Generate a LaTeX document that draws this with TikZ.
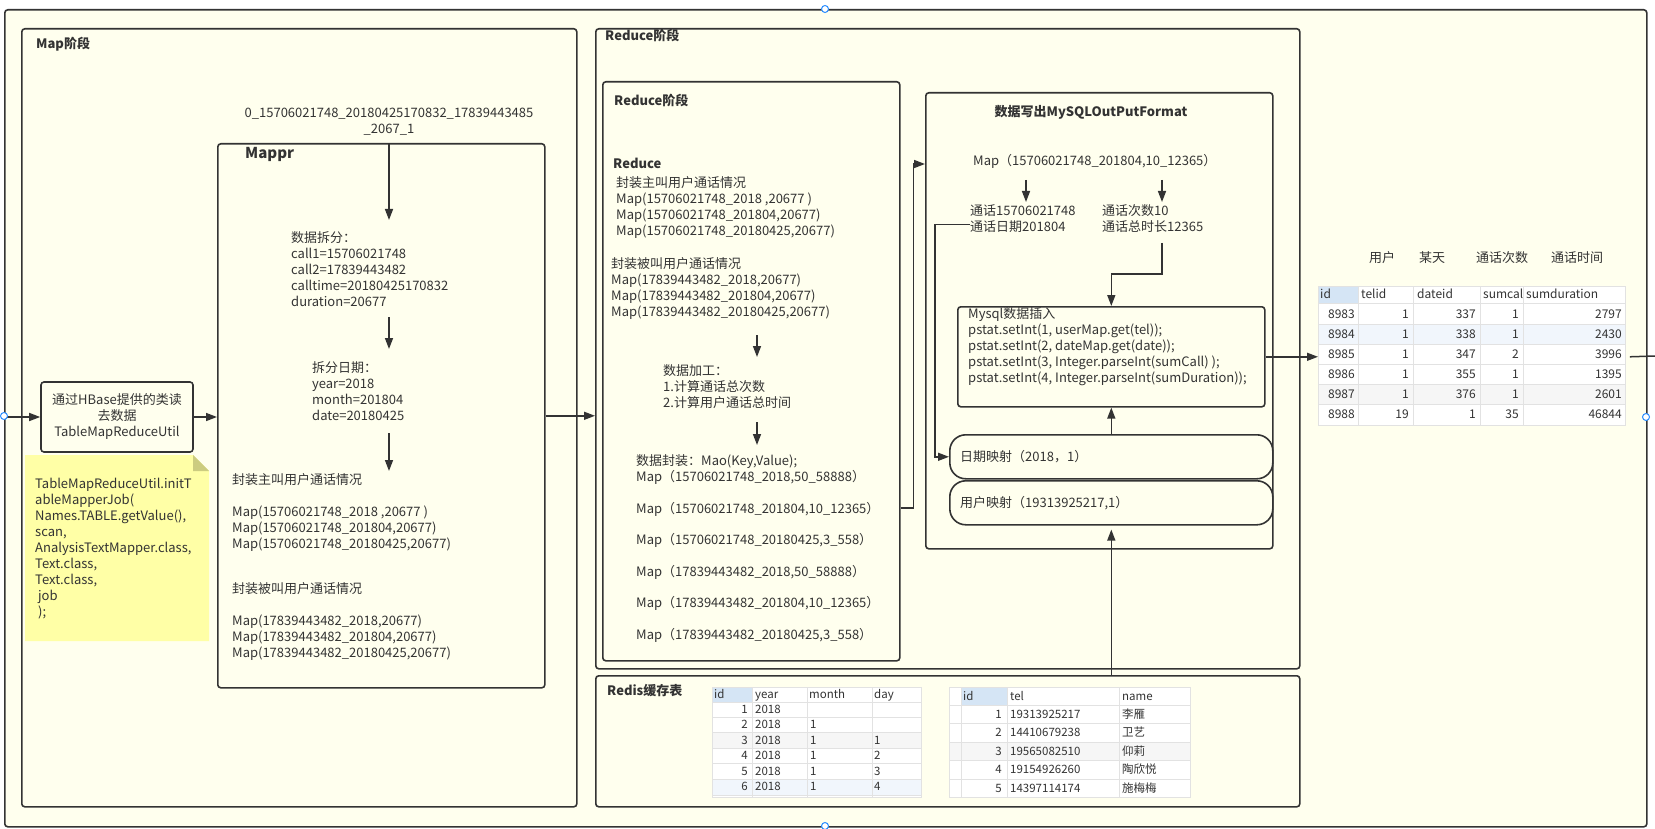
\documentclass[tikz,border=0pt]{standalone}
\usepackage{fontspec}
\setmainfont{Noto Sans CJK SC}
\usetikzlibrary{arrows.meta}
\definecolor{bg}{RGB}{255,255,238}
\definecolor{ln}{RGB}{51,51,51}
\definecolor{tx}{RGB}{51,51,51}
\definecolor{notey}{RGB}{255,255,166}
\definecolor{foldc}{RGB}{204,204,128}
\definecolor{hdr}{RGB}{213,229,245}
\definecolor{gridc}{RGB}{226,226,226}
\definecolor{rowb}{RGB}{241,246,252}
\definecolor{rowg}{RGB}{246,246,246}
\definecolor{handlec}{RGB}{40,140,255}
\newcommand\fs{\fontsize{13}{16}\selectfont}
\newcommand\fst{\fontsize{12}{14}\selectfont}
\newcommand\fsr{\fontsize{11.5}{14}\selectfont}
\tikzset{
  frame/.style={draw=ln, line width=1.6pt, rounded corners=3pt, fill=bg, inner sep=0pt, anchor=north west},
  arr/.style={draw=ln, line width=1.5pt, -{Triangle[length=11pt,width=8pt]}},
  conn/.style={draw=ln, line width=1.5pt},
  lbl/.style={inner sep=0pt, text=tx, font=\fs, text height=12pt, text depth=2.4pt, anchor=west},
  blk/.style={inner sep=0pt, text=tx, font=\fs, align=left, anchor=north west, execute at begin node=\strut},
  ttl/.style={lbl, font=\fs\bfseries},
  tcell/.style={inner sep=0pt, text=tx, font=\fst, text height=11pt, text depth=2.2pt},
  rcell/.style={inner sep=0pt, text=tx, font=\fsr, text height=10.5pt, text depth=2pt},
  tabbox/.style={draw=gridc, line width=0.8pt, fill=white, inner sep=0pt, anchor=north west},
  gl/.style={draw=gridc, line width=0.8pt},
  handle/.style={draw=handlec, fill=white, line width=1pt, circle, inner sep=0pt, minimum size=7pt},
}
\begin{document}
\begin{tikzpicture}[x=1pt, y=-1pt]
\useasboundingbox (0,0) rectangle (1655,829);

% ---------- frames ----------
\node[frame, minimum width=1642pt, minimum height=817pt] (outer) at (4,9) {};
\node[frame, minimum width=555pt, minimum height=778pt] (mapst) at (21,28) {};
\node[frame, minimum width=704pt, minimum height=640pt] (redout) at (595,28) {};
\node[frame, minimum width=704pt, minimum height=131pt] (redis) at (595,675) {};
\node[frame, minimum width=297pt, minimum height=579pt] (redin) at (602,81) {};
\node[frame, minimum width=347pt, minimum height=456pt] (mysql) at (925,92) {};
\node[frame, minimum width=307pt, minimum height=100pt] (insert) at (957,306) {};
\node[frame, rounded corners=16pt, minimum width=323pt, minimum height=44pt] (datemap) at (949,434) {};
\node[frame, rounded corners=16pt, minimum width=323pt, minimum height=44pt] (usermap) at (949,480) {};
\node[frame, minimum width=327pt, minimum height=544pt] (mappr) at (217,143) {};
\node[frame, anchor=center, minimum width=152pt, minimum height=70pt, align=center, font=\fs, text=tx] (hbase) at (117,417) {通过HBase提供的类读\\去数据\\TableMapReduceUtil};

% ---------- note ----------
\fill[notey] (25,455) -- (193,455) -- (209,471) -- (209,641) -- (25,641) -- cycle;
\fill[foldc] (193,455) -- (209,471) -- (193,471) -- cycle;
\node[blk] (note) at (35,477.6) {TableMapReduceUtil.initT\\ableMapperJob(\\Names.TABLE.getValue(),\\scan,\\AnalysisTextMapper.class,\\Text.class,\\Text.class,\\\ job\\\ );};

% ---------- titles ----------
\node[ttl] (tmap) at (36,44) {Map阶段};
\node[ttl] (tred) at (605,36) {Reduce阶段};
\node[ttl] (tredis) at (607,691) {Redis缓存表};
\node[ttl] (tredin) at (614,101) {Reduce阶段};
\node[ttl, anchor=center] (tmysql) at (1091,112) {数据写出MySQLOutPutFormat};
\node[ttl, font=\fontsize{15}{18}\selectfont\bfseries] (tmappr) at (245,154) {Mappr};

% ---------- Map stage ----------
\node[blk, align=center, anchor=north] (rowkey) at (389,107.6) {0\_15706021748\_20180425170832\_17839443485\\\_2067\_1};
\node[blk] (split) at (291,231.6) {数据拆分：\\call1=15706021748\\call2=17839443482\\calltime=20180425170832\\duration=20677};
\node[blk] (datesp) at (312,361.6) {拆分日期：\\year=2018\\month=201804\\date=20180425};
\node[blk] (caller) at (232,473.6) {封装主叫用户通话情况\\[16pt]Map(15706021748\_2018 ,20677 )\\Map(15706021748\_201804,20677)\\Map(15706021748\_20180425,20677)};
\node[blk] (callee) at (232,582.6) {封装被叫用户通话情况\\[16pt]Map(17839443482\_2018,20677)\\Map(17839443482\_201804,20677)\\Map(17839443482\_20180425,20677)};

\draw[arr] (rowkey.south |- mappr.north) -- (rowkey.south |- 0,220);
\draw[arr] (rowkey.south |- 0,317) -- (rowkey.south |- 0,349);
\draw[arr] (rowkey.south |- 0,433) -- (rowkey.south |- 0,471);

\draw[arr] (outer.west |- hbase.west) -- (hbase.west);
\draw[arr] (hbase.east) -- (hbase.east -| mappr.west);
\draw[arr] (mappr.east) -- (mappr.east -| redout.west);

% ---------- Reduce inner ----------
\node[ttl] (treduce) at (613,164) {Reduce};
\node[blk] (r1) at (616,176.6) {封装主叫用户通话情况\\Map(15706021748\_2018 ,20677 )\\Map(15706021748\_201804,20677)\\Map(15706021748\_20180425,20677)};
\node[blk] (r2) at (611,257.6) {封装被叫用户通话情况\\Map(17839443482\_2018,20677)\\Map(17839443482\_201804,20677)\\Map(17839443482\_20180425,20677)};
\node[blk] (proc) at (663,364.6) {数据加工：\\1.计算通话总次数\\2.计算用户通话总时间};
\node[blk] (pack) at (636,454.6) {数据封装：Mao(Key,Value);\\Map（15706021748\_2018,50\_58888）\\[15.5pt]Map（15706021748\_201804,10\_12365）\\[15.5pt]Map（15706021748\_20180425,3\_558）\\[15.5pt]Map（17839443482\_2018,50\_58888）\\[15.5pt]Map（17839443482\_201804,10\_12365）\\[15.5pt]Map（17839443482\_20180425,3\_558）};
\coordinate (ra1) at (757,335);
\coordinate (ra2) at (757,357);
\coordinate (rb1) at (757,422);
\coordinate (rb2) at (757,445);
\draw[arr] (ra1) -- (ra2);
\draw[arr] (rb1) -- (rb2);
\draw[arr] (redin.east |- 0,508) -- ++(13,0) |- (mysql.west |- 0,164);

% ---------- MySQL output ----------
\node[lbl] (mtext) at (973,161) {Map（15706021748\_201804,10\_12365）};
\node[blk] (ta) at (970,204.6) {通话15706021748\\通话日期201804};
\node[blk] (tb) at (1102,204.6) {通话次数10\\通话总时长12365};
\coordinate (ma1) at (1026,180);
\coordinate (ma2) at (1026,202);
\coordinate (mb1) at (1162,180);
\coordinate (mb2) at (1162,202);
\draw[arr] (ma1) -- (ma2);
\draw[arr] (mb1) -- (mb2);
\coordinate (tbo) at (1162,243);
\draw[arr] (tbo) -- ++(0,31) -| (insert.north);
\draw[arr] ([yshift=-4pt]ta.west) -- ++(-35,0) |- (datemap.west);
\draw[arr] (datemap.north -| insert.south) -- (insert.south);
\draw[arr, shorten >=4pt] (usermap.south |- redis.north) -- (usermap.south);

\node[blk] (instext) at (968,307.6) {Mysql数据插入\\pstat.setInt(1, userMap.get(tel));\\pstat.setInt(2, dateMap.get(date));\\pstat.setInt(3, Integer.parseInt(sumCall) );\\pstat.setInt(4, Integer.parseInt(sumDuration));};
\node[lbl] (dtext) at (960,457) {日期映射（2018，1）};
\node[lbl] (utext) at (960,503) {用户映射（19313925217,1）};

% ---------- result table ----------
\node[tabbox, minimum width=307pt, minimum height=139pt] (restab) at (1318,286) {};
\fill[hdr] (1318,286) rectangle (1358,303);
\fill[rowb] (1318,324) rectangle (1625,344);
\fill[rowg] (1318,384) rectangle (1625,404);
\foreach \x in {1358,1413,1480,1523} \draw[gl] (\x,286) -- (\x,425);
\foreach \y in {303,324,344,364,384,404} \draw[gl] (1318,\y) -- (1625,\y);
\draw[gl] (restab.north west) rectangle (restab.south east);
\node[tcell, anchor=west] (rh1) at (1320,294) {id};
\node[tcell, anchor=west] (rh2) at (1361,294) {telid};
\node[tcell, anchor=west] (rh3) at (1417,294) {dateid};
\node[tcell, anchor=west] (rh4) at (1483,294) {sumcal};
\node[tcell, anchor=west] (rh5) at (1526,294) {sumduration};
\foreach \a/\b/\c/\d/\e [count=\k] in {8983/1/337/1/2797, 8984/1/338/1/2430, 8985/1/347/2/3996, 8986/1/355/1/1395, 8987/1/376/1/2601, 8988/19/1/35/46844} {
  \pgfmathsetmacro\yy{294+20*\k}
  \node[tcell, anchor=east] (ra\k) at (1355,\yy) {\a};
  \node[tcell, anchor=east] (rb\k) at (1409,\yy) {\b};
  \node[tcell, anchor=east] (rc\k) at (1476,\yy) {\c};
  \node[tcell, anchor=east] (rd\k) at (1519,\yy) {\d};
  \node[tcell, anchor=east] (re\k) at (1622,\yy) {\e};
}
\node[lbl, anchor=center] (cap1) at (1382,258) {用户};
\node[lbl, anchor=center] (cap2) at (1432,258) {某天};
\node[lbl, anchor=center] (cap3) at (1502,258) {通话次数};
\node[lbl, anchor=center] (cap4) at (1577,258) {通话时间};

\draw[arr] (insert.east) -- (insert.east -| restab.west);
\coordinate (outend) at (1655,356);
\draw[conn] ([xshift=4pt]restab.east |- insert.east) -- (outend);

% ---------- redis date table ----------
\node[tabbox, minimum width=209pt, minimum height=110pt] (ytab) at (712,687) {};
\fill[hdr] (712,687) rectangle (752,702);
\fill[rowg] (712,732) rectangle (921,748);
\fill[rowb] (712,779) rectangle (921,795);
\foreach \x in {752,807,872} \draw[gl] (\x,687) -- (\x,797);
\foreach \y in {702,717,732,748,763,779,795} \draw[gl] (712,\y) -- (921,\y);
\draw[gl] (ytab.north west) rectangle (ytab.south east);
\node[rcell, anchor=west] (yh1) at (714,694.5) {id};
\node[rcell, anchor=west] (yh2) at (755,694.5) {year};
\node[rcell, anchor=west] (yh3) at (809,694.5) {month};
\node[rcell, anchor=west] (yh4) at (874,694.5) {day};
\foreach \k in {1,...,6} {
  \pgfmathsetmacro\yy{693.5+15.5*\k}
  \node[rcell, anchor=east] (yid\k) at (748,\yy) {\k};
  \node[rcell, anchor=west] (yyr\k) at (755,\yy) {2018};
}
\foreach \k in {2,...,6} {
  \pgfmathsetmacro\yy{693.5+15.5*\k}
  \node[rcell, anchor=west] (ymo\k) at (810,\yy) {1};
}
\foreach \k/\v in {3/1,4/2,5/3,6/4} {
  \pgfmathsetmacro\yy{693.5+15.5*\k}
  \node[rcell, anchor=west] (yda\k) at (874,\yy) {\v};
}

% ---------- redis user table ----------
\node[tabbox, minimum width=241pt, minimum height=110pt] (utab) at (949,687) {};
\fill[hdr] (961,687) rectangle (1007,705);
\fill[rowg] (949,742) rectangle (1190,760);
\foreach \x in {961,1007,1119} \draw[gl] (\x,687) -- (\x,797);
\foreach \y in {705,723,742,760,779} \draw[gl] (949,\y) -- (1190,\y);
\draw[gl] (utab.north west) rectangle (utab.south east);
\node[rcell, anchor=west] (uh1) at (963,696) {id};
\node[rcell, anchor=west] (uh2) at (1010,696) {tel};
\node[rcell, anchor=west] (uh3) at (1122,696) {name};
\foreach \t/\n [count=\k] in {19313925217/李雁, 14410679238/卫艺, 19565082510/仰莉, 19154926260/陶欣悦, 14397114174/施梅梅} {
  \pgfmathsetmacro\yy{695.5+18.5*\k}
  \node[rcell, anchor=east] (uid\k) at (1002,\yy) {\k};
  \node[rcell, anchor=west] (utl\k) at (1010,\yy) {\t};
  \node[rcell, anchor=west] (unm\k) at (1122,\yy) {\n};
}

% ---------- selection handles ----------
\node[handle] (hd1) at (825,9) {};
\node[handle] (hd2) at (825,826) {};
\node[handle] (hd3) at (4,416) {};
\node[handle] (hd4) at (1646,417) {};
\end{tikzpicture}
\end{document}
